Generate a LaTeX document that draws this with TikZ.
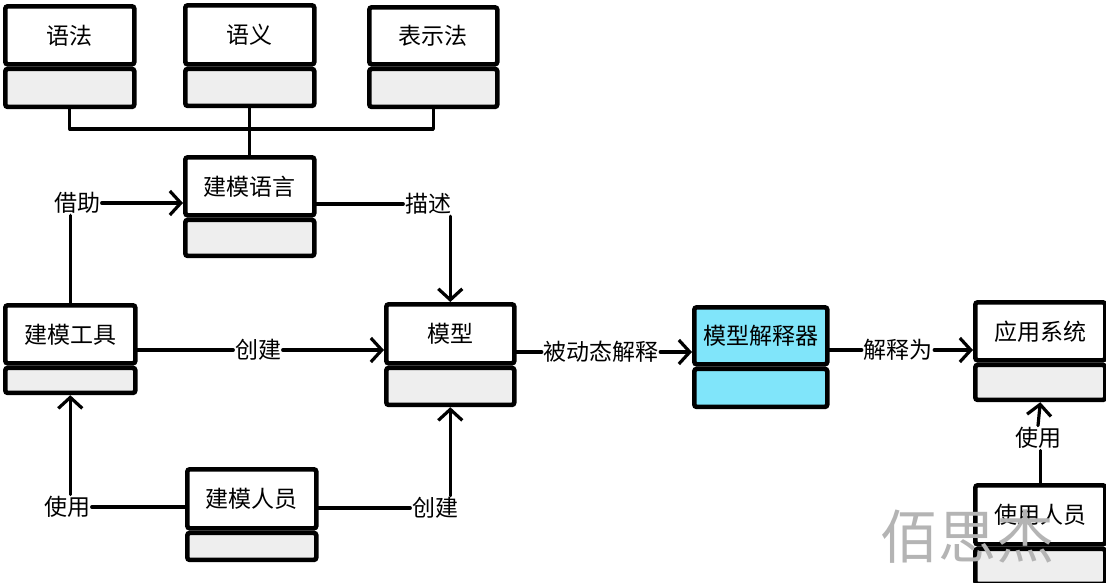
\documentclass[tikz,border=0pt]{standalone}
\usepackage{fontspec}
\setmainfont{Noto Sans CJK SC}
\usetikzlibrary{arrows.meta}
\definecolor{lowgray}{RGB}{238,238,238}
\definecolor{interp}{RGB}{128,229,250}
\definecolor{wmark}{RGB}{180,180,180}
\tikzset{
  boxline/.style={draw=black, line width=4.6pt, rounded corners=2.5pt},
  toppart/.style={boxline, anchor=north west, inner sep=0pt, font=\fontsize{23}{27}\selectfont},
  lowpart/.style={boxline, anchor=north, inner sep=0pt},
  lbl/.style={inner sep=1.5pt, font=\fontsize{23}{27}\selectfont},
  conn/.style={draw=black, line width=3.2pt, line cap=round, line join=round},
  arr/.style={conn, -{Straight Barb[length=11pt, width=24pt]}},
}
% name, x1, y1, ymid, x2, y2, text, lower fill, upper fill
\newcommand\umlbox[9]{%
  \node[toppart, fill=#9, minimum width=#5pt-#2pt, minimum height=#4pt-#3pt] (#1) at (#2,#3) {#7};
  \node[lowpart, fill=#8, minimum width=#5pt-#2pt, minimum height=#6pt-#4pt] (#1-b) at (#1.south) {};
}
\begin{document}
\begin{tikzpicture}[x=1pt, y=-1pt]
\useasboundingbox (0,0) rectangle (1106,582);
% boxes
\umlbox{yufa}{3}{4}{62}{132}{100}{语法}{lowgray}{white}
\umlbox{yuyi}{183}{3}{62}{312}{99}{语义}{lowgray}{white}
\umlbox{bsf}{367}{5}{62}{495}{100}{表示法}{lowgray}{white}
\umlbox{jmyy}{183}{155}{213}{312}{249}{建模语言}{lowgray}{white}
\umlbox{jmgj}{3}{303}{361}{133}{386}{建模工具}{lowgray}{white}
\umlbox{mx}{384}{302}{361}{512}{398}{模型}{lowgray}{white}
\umlbox{mxjsq}{692}{305}{362}{825}{400}{模型解释器}{interp}{interp}
\umlbox{yyxt}{973}{300}{358}{1103}{393}{应用系统}{lowgray}{white}
\umlbox{jmry}{185}{467}{526}{314}{553}{建模人员}{lowgray}{white}
\umlbox{syry}{973}{483}{542}{1103}{577}{使用人员}{lowgray}{white}
% labels
\node[lbl] (jiezhu) at (77,203) {借助};
\node[lbl] (miaoshu) at (428,204) {描述};
\node[lbl] (cj1) at (258,350) {创建};
\node[lbl] (bdtjs) at (601,352) {被动态解释};
\node[lbl] (jsw) at (898,350) {解释为};
\node[lbl] (sy2) at (1038,438) {使用};
\node[lbl] (sy1) at (67,507) {使用};
\node[lbl] (cj2) at (435,508) {创建};
\coordinate (j) at (247,129);
% connectors
\draw[conn] (yufa-b.south) |- (j) -| (bsf-b.south);
\draw[conn] (yuyi-b.south) -- (jmyy.north);
\draw[conn] (jmgj.north) -- (jmgj.north |- jiezhu.south);
\draw[arr] (jiezhu.east) -- (jiezhu.east -| jmyy.west);
\draw[conn] (jmyy.east |- miaoshu.west) -- (miaoshu.west);
\draw[arr] (mx.north |- miaoshu.south) -- (mx.north);
\draw[conn] (cj1.west -| jmgj.east) -- (cj1.west);
\draw[arr] (cj1.east) -- (cj1.east -| mx.west);
\draw[conn] (mx.east |- bdtjs.west) -- (bdtjs.west);
\draw[arr] (bdtjs.east) -- (bdtjs.east -| mxjsq.west);
\draw[conn] (mxjsq.east |- jsw.west) -- (jsw.west);
\draw[arr] (jsw.east) -- (jsw.east -| yyxt.west);
\draw[conn] (syry.north) -- (syry.north |- sy2.south);
\draw[arr] (sy2.north) -- (yyxt-b.south);
\draw[conn] (jmry.west |- sy1.east) -- (sy1.east);
\draw[arr] (jmgj-b.south |- sy1.north) -- (jmgj-b.south);
\draw[conn] (jmry.east |- cj2.west) -- (cj2.west);
\draw[arr] (mx-b.south |- cj2.north) -- (mx-b.south);
% watermark
\node[text=wmark, inner sep=0pt, font=\fontsize{58}{62}\selectfont] (wm) at (967,537) {佰思杰};
\end{tikzpicture}
\end{document}
